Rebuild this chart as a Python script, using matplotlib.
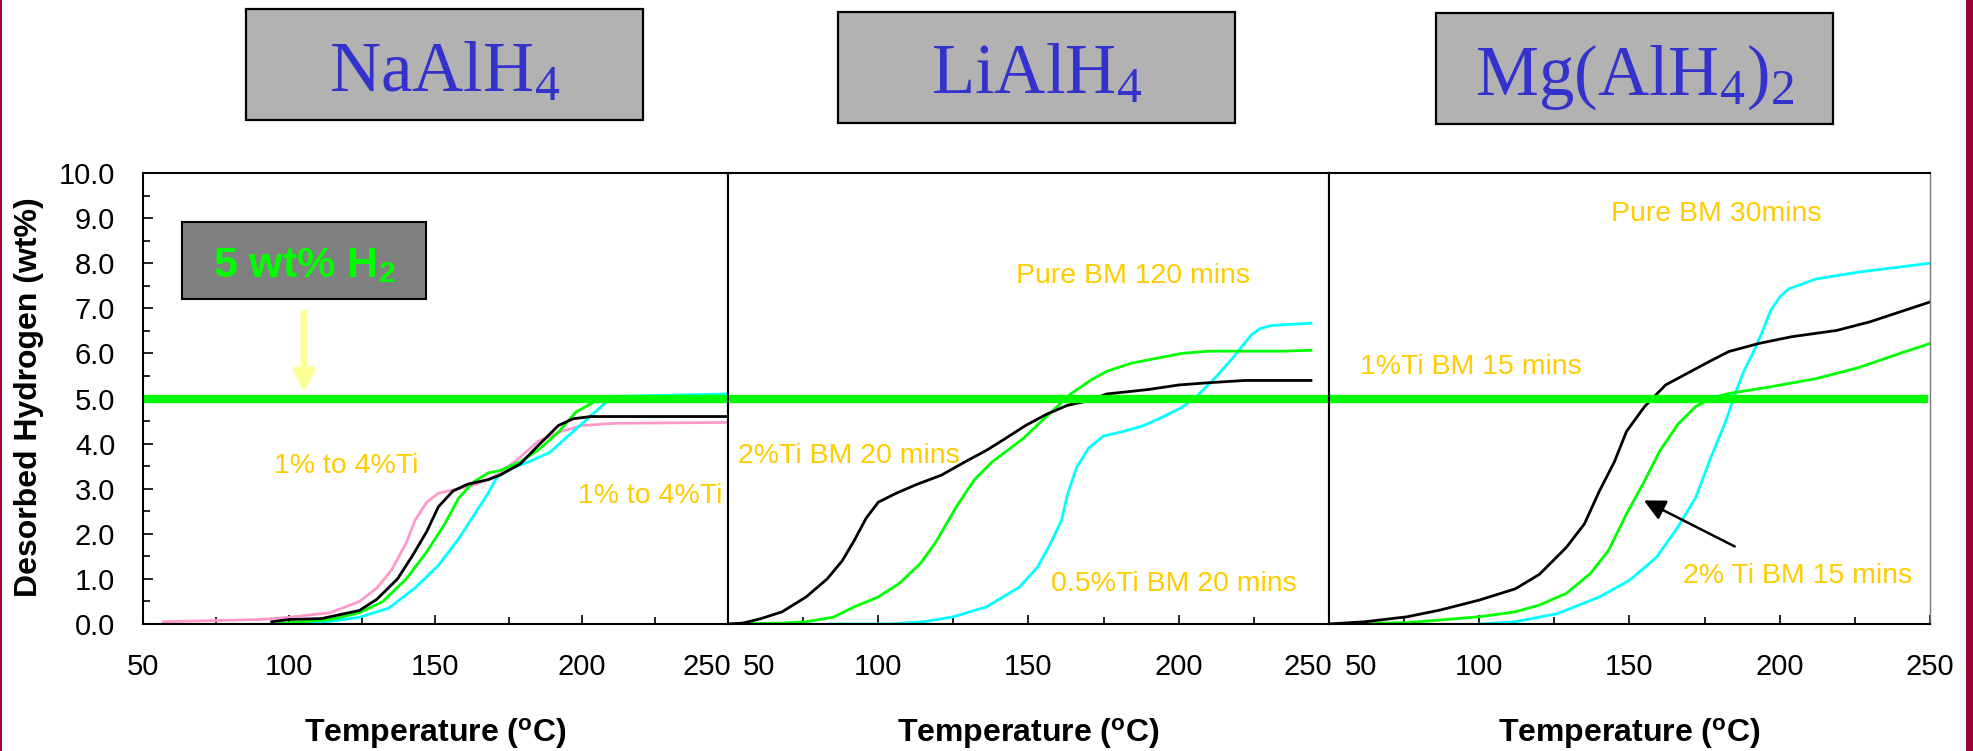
import matplotlib
matplotlib.use("Agg")
import matplotlib.pyplot as plt
import matplotlib.transforms as mtransforms
from matplotlib.patches import Rectangle

plt.rcParams['font.family'] = ['Liberation Sans', 'DejaVu Sans']
plt.rcParams['mathtext.fontset'] = 'custom'
plt.rcParams['mathtext.rm'] = 'Liberation Serif'
plt.rcParams['mathtext.it'] = 'Liberation Serif:italic'
plt.rcParams['mathtext.bf'] = 'Liberation Sans:bold'

# ---- data ----
titles = ['NaAlH$_4$', 'LiAlH$_4$', 'Mg(AlH$_4$)$_2$']
x_ticks = [50, 100, 150, 200, 250]
y_ticks = [0, 1, 2, 3, 4, 5, 6, 7, 8, 9, 10]
target_wt = 5.0

# NaAlH4
na_pink_t = [57, 90, 100, 114, 124, 130, 135, 140, 143, 147, 151, 158, 164, 171, 179, 185, 192, 200, 211, 250]
na_pink_h = [0.05, 0.1, 0.15, 0.25, 0.5, 0.8, 1.2, 1.8, 2.3, 2.7, 2.9, 3.0, 3.1, 3.3, 3.7, 4.05, 4.25, 4.4, 4.45, 4.47]
na_black_t = [94, 100, 111, 124, 130, 137, 142, 147, 151, 156, 161, 168, 172, 179, 185, 192, 197, 203, 250]
na_black_h = [0.05, 0.1, 0.12, 0.3, 0.55, 1.0, 1.5, 2.05, 2.6, 2.95, 3.1, 3.2, 3.3, 3.55, 3.95, 4.4, 4.55, 4.6, 4.6]
na_green_t = [95, 114, 124, 132, 140, 147, 153, 158, 163, 168, 172, 179, 185, 192, 198, 205, 211, 250]
na_green_h = [0.0, 0.1, 0.25, 0.5, 1.0, 1.6, 2.2, 2.8, 3.15, 3.35, 3.4, 3.6, 3.85, 4.25, 4.7, 4.95, 5.0, 5.0]
na_cyan_t = [105, 113, 124, 134, 143, 151, 158, 163, 168, 171, 176, 182, 189, 195, 202, 208, 214, 250]
na_cyan_h = [0.0, 0.05, 0.15, 0.35, 0.8, 1.3, 1.9, 2.4, 2.9, 3.25, 3.45, 3.6, 3.8, 4.15, 4.55, 4.9, 5.05, 5.1]

# LiAlH4
li_black_t = [50, 55, 61, 68, 76, 83, 88, 92, 96, 100, 106, 113, 121, 129, 136, 142, 149, 156, 163, 170,
              176, 183, 190, 200, 210, 222, 244]
li_black_h = [0.0, 0.02, 0.12, 0.27, 0.6, 1.0, 1.4, 1.85, 2.35, 2.7, 2.9, 3.1, 3.3, 3.6, 3.85, 4.1, 4.4, 4.65,
              4.85, 4.95, 5.1, 5.15, 5.2, 5.3, 5.35, 5.4, 5.4]
li_green_t = [50, 68, 76, 85, 92, 100, 107, 114, 119, 126, 132, 138, 148, 156, 164, 171, 176, 184, 201, 210, 235, 244]
li_green_h = [0.0, 0.02, 0.05, 0.15, 0.38, 0.6, 0.9, 1.34, 1.8, 2.6, 3.2, 3.6, 4.1, 4.6, 5.1, 5.42, 5.6, 5.78,
              6.0, 6.05, 6.05, 6.07]
li_cyan_t = [84, 104, 115, 125, 136, 147, 153, 157, 161, 163, 166, 170, 175, 181, 188, 194, 201, 206, 212, 218,
             224, 227, 231, 244]
li_cyan_h = [0.0, 0.0, 0.05, 0.16, 0.38, 0.82, 1.26, 1.74, 2.3, 2.88, 3.47, 3.9, 4.17, 4.26, 4.39, 4.57, 4.8,
             5.05, 5.45, 5.9, 6.4, 6.55, 6.62, 6.67]

# Mg(AlH4)2
mg_black_t = [50, 62, 76, 87, 100, 112, 120, 129, 135, 140, 145, 149, 155, 162, 169, 176, 183, 193, 204, 219,
              230, 240, 250]
mg_black_h = [0.0, 0.05, 0.16, 0.31, 0.53, 0.78, 1.1, 1.7, 2.22, 2.95, 3.6, 4.27, 4.82, 5.3, 5.55, 5.8, 6.04,
              6.22, 6.37, 6.51, 6.7, 6.92, 7.14]
mg_green_t = [50, 76, 100, 112, 120, 129, 137, 143, 149, 155, 160, 166, 172, 177, 183, 197, 212, 226, 240, 250]
mg_green_h = [0.0, 0.03, 0.16, 0.27, 0.42, 0.68, 1.12, 1.63, 2.44, 3.17, 3.83, 4.42, 4.82, 5.0, 5.11, 5.26,
              5.44, 5.68, 6.0, 6.22]
mg_cyan_t = [100, 112, 126, 140, 150, 159, 166, 172, 177, 182, 185, 188, 191, 194, 197, 200, 203, 212, 226, 250]
mg_cyan_h = [0.0, 0.05, 0.23, 0.6, 0.97, 1.48, 2.14, 2.8, 3.68, 4.49, 5.08, 5.6, 6.0, 6.45, 6.95, 7.25, 7.43,
             7.65, 7.8, 8.0]

PINK = '#ff99cc'
GREEN = '#00ff00'
CYAN = '#00ffff'
GOLD = '#ffcc00'
TITLE_BLUE = '#3333cc'
MAROON = '#990033'

W, H = 1974, 751
fig = plt.figure(figsize=(W / 100, H / 100), dpi=100)

# panel placement in pixels: (left, right)
panel_px = [(143, 728), (728, 1329), (1329, 1930)]
ax_top, ax_bot = 173, 624
axes = []
for l, r in panel_px:
    ax = fig.add_axes([l / W, (H - ax_bot) / H, (r - l) / W, (ax_bot - ax_top) / H])
    axes.append(ax)

curves = [
    [(na_pink_t, na_pink_h, PINK), (na_cyan_t, na_cyan_h, CYAN),
     (na_green_t, na_green_h, GREEN), (na_black_t, na_black_h, 'black')],
    [(li_cyan_t, li_cyan_h, CYAN), (li_green_t, li_green_h, GREEN), (li_black_t, li_black_h, 'black')],
    [(mg_cyan_t, mg_cyan_h, CYAN), (mg_green_t, mg_green_h, GREEN), (mg_black_t, mg_black_h, 'black')],
]

for i, ax in enumerate(axes):
    for t, h, c in curves[i]:
        ax.plot(t, h, color=c, lw=2.0, zorder=3)
    xmax = 0.99 if i == 2 else 1.0
    ax.axhline(target_wt, xmin=0, xmax=xmax, color=GREEN, lw=6, zorder=5)
    ax.set_xlim(50, 250)
    ax.set_ylim(0, 10)
    for s in ax.spines.values():
        s.set_linewidth(1.5)
        s.set_zorder(6)
    ax.set_xticks(x_ticks)
    ax.set_xticks([75, 125, 175, 225], minor=True)
    ax.tick_params(axis='x', which='major', direction='in', length=6.5, width=1.2, labelsize=21, pad=21)
    ax.tick_params(axis='x', which='minor', direction='in', length=5, width=1.2)
    ax.set_xlabel(r'Temperature ($^{\mathbf{o}}$C)', fontsize=23, fontweight='bold')
    ax.xaxis.set_label_coords(0.5, -0.242)
    ax.xaxis.label.set_va('center')
    if i == 0:
        ax.set_yticks(y_ticks)
        ax.set_yticklabels([f'{v:.1f}' for v in y_ticks])
        ax.set_yticks([v + 0.5 for v in y_ticks[:-1]], minor=True)
        ax.tick_params(axis='y', which='major', direction='in', length=7, width=1.2, labelsize=21, pad=20)
        ax.tick_params(axis='y', which='minor', direction='in', length=5, width=1.2)
        ax.set_ylabel('Desorbed Hydrogen (wt%)', fontsize=23, fontweight='bold')
        ax.yaxis.set_label_coords(-0.195, 0.502)
        ax.yaxis.label.set_va('center')
    else:
        ax.set_yticks([])
axes[2].spines['right'].set_color('#777777')
axes[2].spines['right'].set_linewidth(1.0)


def shift_label(lbl, dx_px, ha):
    lbl.set_ha(ha)
    lbl.set_transform(lbl.get_transform()
                      + mtransforms.ScaledTranslation(dx_px / 100, 0, fig.dpi_scale_trans))


lbls = axes[0].get_xticklabels()
shift_label(lbls[-1], 3, 'right')
lbls = axes[1].get_xticklabels()
shift_label(lbls[0], 15, 'left')
shift_label(lbls[-1], 3, 'right')
lbls = axes[2].get_xticklabels()
shift_label(lbls[0], 16, 'left')

# title boxes
title_boxes = [(246, 9, 120, 91), (838, 12, 123, 93), (1436, 13, 124, 95)]
for (x0, y0, y1, base), ttl in zip(title_boxes, titles):
    fig.patches.append(Rectangle((x0 / W, (H - y1) / H), 397 / W, (y1 - y0) / H,
                                 transform=fig.transFigure, fc='#b2b2b2', ec='black', lw=1.6))
    fig.text((x0 + 198.5) / W, (H - base) / H, ttl, ha='center', va='baseline',
             fontsize=51, color=TITLE_BLUE, family='Liberation Serif')

# slide border lines
fig.patches.append(Rectangle((0, 0), 2 / W, 1, transform=fig.transFigure, fc=MAROON, ec='none'))
fig.patches.append(Rectangle((1966 / W, 0), 8 / W, 1, transform=fig.transFigure, fc=MAROON, ec='none'))

# panel 1 extras
ax1 = axes[0]
ax1.add_patch(Rectangle((63.5, 7.2), 83.4, 1.71, fc='#808080', ec='black', lw=1.5, zorder=4))
ax1.text(105, 7.69, '5 wt% H$_{\\mathbf{2}}$', ha='center', va='baseline', fontsize=31,
         fontweight='bold', color=GREEN, zorder=5)
ax1.annotate('', xy=(105, 5.12), xytext=(105, 6.9),
             arrowprops=dict(arrowstyle='-|>', color='#ffff99', lw=5, mutation_scale=28,
                             shrinkA=0, shrinkB=0), zorder=4)
ax1.text(94.8, 3.35, '1% to 4%Ti', fontsize=20.5, color=GOLD, va='baseline', ha='left')
ax1.text(248, 2.68, '1% to 4%Ti', fontsize=20.5, color=GOLD, va='baseline', ha='right')

# panel 2 labels
ax2 = axes[1]
ax2.text(145.9, 7.57, 'Pure BM 120 mins', fontsize=20.5, color=GOLD, va='baseline')
ax2.text(53.4, 3.58, '2%Ti BM 20 mins', fontsize=20.5, color=GOLD, va='baseline')
ax2.text(157.5, 0.74, '0.5%Ti BM 20 mins', fontsize=20.5, color=GOLD, va='baseline')

# panel 3 labels
ax3 = axes[2]
ax3.text(144, 8.94, 'Pure BM 30mins', fontsize=20.5, color=GOLD, va='baseline')
ax3.text(60.3, 5.54, '1%Ti BM 15 mins', fontsize=20.5, color=GOLD, va='baseline')
ax3.text(167.7, 0.92, '2% Ti BM 15 mins', fontsize=20.5, color=GOLD, va='baseline')
ax3.annotate('', xy=(154.8, 2.74), xytext=(185, 1.72),
             arrowprops=dict(arrowstyle='-|>', color='black', lw=1.8, mutation_scale=32,
                             shrinkA=0, shrinkB=0), zorder=6)

fig.savefig('out.png', dpi=100, facecolor='white')
